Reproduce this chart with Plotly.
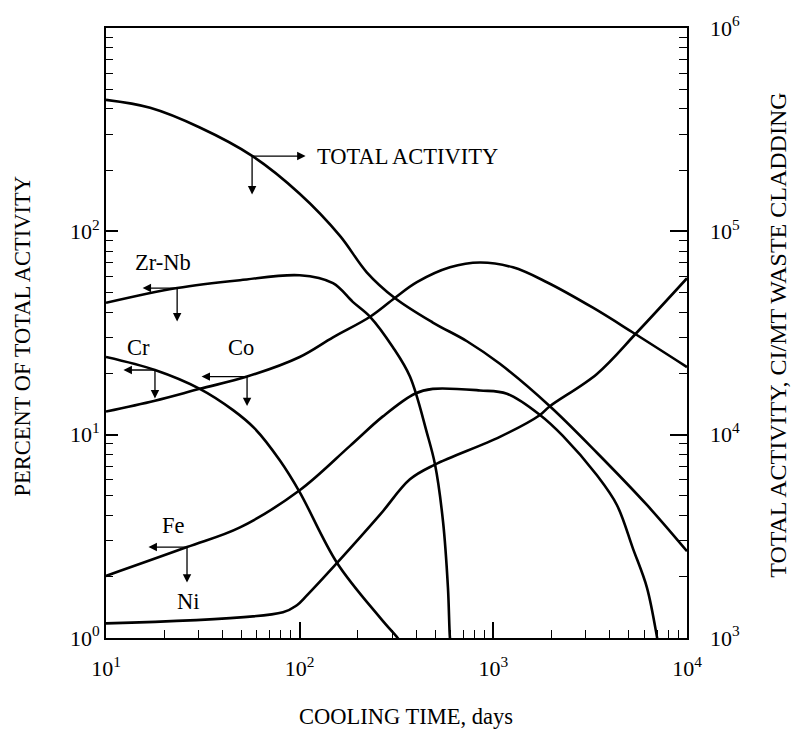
import math
import plotly.graph_objects as go

# ---------------- data ----------------
days_total = [10, 16.9, 30.5, 56.8, 100, 161.5, 222, 310, 487, 731, 1081, 1958, 3428, 6210, 10000]
total_activity = [4.43e5, 4.05e5, 3.24e5, 2.35e5, 1.53e5, 9.5e4, 6.29e4, 4.70e4, 3.56e4,
                  2.88e4, 2.23e4, 1.38e4, 8.15e3, 4.51e3, 2.67e3]

days_zrnb = [10, 23.3, 49.2, 100, 148.6, 188, 231, 303, 371, 454, 500, 550, 583, 597, 602]
pct_zrnb = [44.5, 52.6, 57.5, 60.8, 55.6, 45.0, 38.0, 26.9, 19.3, 10.2, 7.13, 3.73, 1.77, 1.0, 0.95]

days_cr = [10, 17.9, 30.5, 45.3, 58.7, 79.1, 100, 156, 260, 321, 335]
pct_cr = [24.1, 20.8, 16.8, 13.2, 10.7, 7.46, 5.22, 2.34, 1.26, 1.0, 0.95]

days_co = [10, 17.9, 30.5, 53.5, 100, 148.6, 231, 310, 403, 597, 853, 1263, 1890, 3268, 5255, 10000]
pct_co = [13.0, 14.7, 16.8, 19.3, 24.1, 30.1, 38.0, 47.0, 56.2, 66.5, 70.3, 66.5, 56.2, 42.1, 31.8, 21.5]

days_fe = [10, 26.2, 49.2, 100, 182, 269, 393, 487, 853, 1175, 1742, 2286, 3428, 4345, 5255, 6210, 7000, 7100]
pct_fe = [2.02, 2.80, 3.50, 5.33, 8.81, 12.3, 15.9, 16.8, 16.5, 15.9, 12.5, 9.86, 6.31, 4.51, 2.76, 1.77, 1.01, 0.93]

days_ni = [10, 82, 96.8, 109, 156, 260, 371, 500, 1081, 1742, 1958, 3428, 5510, 10000]
pct_ni = [1.18, 1.34, 1.45, 1.62, 2.34, 4.04, 6.03, 7.13, 9.75, 12.5, 13.8, 19.9, 31.8, 58.8]

x_ticks = [10, 100, 1000, 10000]
x_ticktext = ["10<sup>1</sup>", "10<sup>2</sup>", "10<sup>3</sup>", "10<sup>4</sup>"]
y_ticks = [1, 10, 100]
y_ticktext = ["10<sup>0</sup>", "10<sup>1</sup>", "10<sup>2</sup>"]
y2_ticks = [1e3, 1e4, 1e5, 1e6]
y2_ticktext = ["&nbsp;&nbsp;&nbsp;10<sup>3</sup>", "&nbsp;&nbsp;&nbsp;10<sup>4</sup>",
               "&nbsp;&nbsp;&nbsp;10<sup>5</sup>", "&nbsp;&nbsp;&nbsp;10<sup>6</sup>"]

# label anchors on curves (days, percent)
arrow_anchors = {
    "TOTAL": (56.8, 234.6),
    "Zr-Nb": (23.3, 52.6),
    "Cr": (17.9, 20.8),
    "Co": (53.5, 19.3),
    "Fe": (26.2, 2.80),
}

FONT = "Liberation Serif"
LW = 2.6

fig = go.Figure()

def curve(xs, ys, axis="y"):
    fig.add_trace(go.Scatter(x=xs, y=ys, mode="lines", yaxis=axis,
                             line=dict(color="black", width=LW, shape="spline", smoothing=1.0),
                             hoverinfo="skip", showlegend=False))

curve(days_total, total_activity, "y2")
curve(days_zrnb, pct_zrnb)
curve(days_cr, pct_cr)
curve(days_co, pct_co)
curve(days_fe, pct_fe)
curve(days_ni, pct_ni)

TICKFONT = dict(family=FONT, size=22, color="black")
axis_common = dict(type="log", showgrid=False, zeroline=False, showline=True,
                   linecolor="black", linewidth=2, ticks="inside", tickcolor="black",
                   tickwidth=1.6, tickfont=TICKFONT, tickmode="array")

def minor(length):
    return dict(ticks="inside", ticklen=length, tickwidth=1.3, tickcolor="black",
                dtick="D1", showgrid=False)

fig.update_layout(
    width=793, height=735,
    margin=dict(l=106, r=106, t=19, b=97),
    paper_bgcolor="white", plot_bgcolor="white",
    showlegend=False,
    font=dict(family=FONT, color="black", size=20),
    xaxis=dict(**axis_common, range=[1, 4], mirror=True,
               tickvals=x_ticks, ticktext=x_ticktext, ticklen=16, minor=minor(8),
               ticklabelstandoff=10),
    yaxis=dict(**axis_common, range=[0, 3],
               tickvals=y_ticks, ticktext=y_ticktext, ticklen=12, minor=minor(7)),
    yaxis2=dict(**axis_common, range=[3, 6], overlaying="y", side="right", anchor="x",
                tickvals=y2_ticks, ticktext=y2_ticktext, ticklen=17, minor=minor(8)),
)

ann = []
lf = dict(family=FONT, size=22.5, color="black")
rf = dict(family=FONT, size=24, color="black")

def lg(v):
    return math.log10(v)

# axis titles
ann.append(dict(text="COOLING TIME, days", xref="paper", yref="paper", x=0.516, y=-0.128,
                showarrow=False, font=lf, xanchor="center", yanchor="middle"))
ann.append(dict(text="PERCENT OF TOTAL ACTIVITY", xref="paper", yref="paper", x=-0.1446, y=0.496,
                showarrow=False, font=lf, textangle=-90, xanchor="center", yanchor="middle"))
ann.append(dict(text="TOTAL ACTIVITY, CI/MT WASTE CLADDING", xref="paper", yref="paper",
                x=1.1566, y=0.497, showarrow=False, font=rf, textangle=-90,
                xanchor="center", yanchor="middle"))

# curve labels (log positions)
labels = [
    ("TOTAL ACTIVITY", 2.079, 2.370, "left"),
    ("Zr-Nb", 1.294, 1.847, "center"),
    ("Cr", 1.170, 1.430, "center"),
    ("Co", 1.697, 1.430, "center"),
    ("Fe", 1.346, 0.553, "center"),
    ("Ni", 1.428, 0.179, "center"),
]
for t, lx, ly, xa in labels:
    ann.append(dict(text=t, xref="x", yref="y", x=lx, y=ly, showarrow=False, font=lf,
                    xanchor=xa, yanchor="middle"))

# arrows: (anchor key, dx, dy) in pixels
arrows = [
    ("TOTAL", 55, 0), ("TOTAL", 0, 40),
    ("Zr-Nb", -36, 0), ("Zr-Nb", 0, 35),
    ("Cr", -33, 0), ("Cr", 0, 30),
    ("Co", -47, 0), ("Co", 0, 31),
    ("Fe", -40, 0), ("Fe", 0, 37),
]
for key, dx, dy in arrows:
    ax_, ay_ = arrow_anchors[key]
    ann.append(dict(text="", xref="x", yref="y", x=lg(ax_), y=lg(ay_), ax=dx, ay=dy,
                    showarrow=True, arrowside="start", startarrowhead=2, startarrowsize=1.3,
                    arrowwidth=1.3, arrowcolor="black", standoff=0, startstandoff=0))

fig.update_layout(annotations=ann)

fig.write_html("out.html", config={"displayModeBar": False},
               post_script="document.body.style.margin='0';")
